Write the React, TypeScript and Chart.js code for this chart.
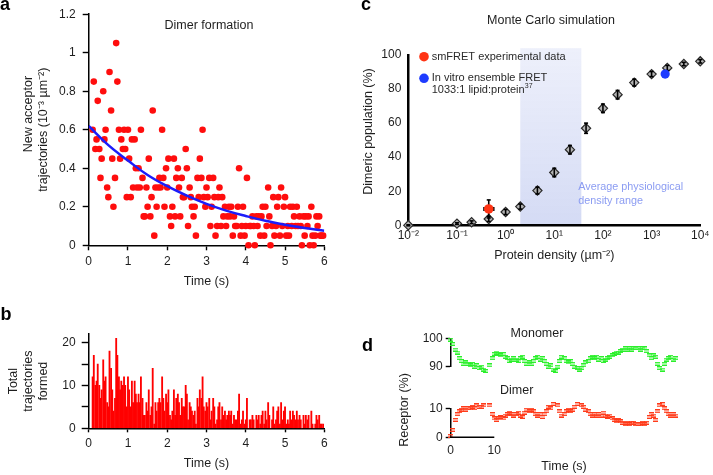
import React, { useEffect, useRef } from 'react';
import { Chart, registerables } from 'chart.js';

Chart.register(...registerables);

const FONT = '"Liberation Sans", Arial, Helvetica, sans-serif';
const TXT = '#1e1e1e';
Chart.defaults.font.family = FONT;
Chart.defaults.color = TXT;

// ---------- Panel a / b : dimer formation histogram ----------
const binTime = [
  0.10, 0.13, 0.17, 0.20, 0.23, 0.27, 0.30, 0.33, 0.37, 0.40, 0.43, 0.47, 0.50, 0.53, 0.57, 0.60, 0.63, 0.67, 0.70, 0.73, 0.77, 0.80, 0.83, 0.87, 0.90, 0.93, 0.97,
  1.00, 1.03, 1.07, 1.10, 1.13, 1.17, 1.20, 1.23, 1.27, 1.30, 1.33, 1.37, 1.40, 1.43, 1.47, 1.50, 1.53, 1.57, 1.60, 1.63, 1.67, 1.70, 1.73, 1.77, 1.80, 1.83, 1.87, 1.90, 1.93, 1.97,
  2.00, 2.03, 2.07, 2.10, 2.13, 2.17, 2.20, 2.23, 2.27, 2.30, 2.33, 2.37, 2.40, 2.43, 2.47, 2.50, 2.53, 2.57, 2.60, 2.63, 2.67, 2.70, 2.73, 2.77, 2.80, 2.83, 2.87, 2.90, 2.93, 2.97,
  3.00, 3.03, 3.07, 3.10, 3.13, 3.17, 3.20, 3.23, 3.27, 3.30, 3.33, 3.37, 3.40, 3.43, 3.47, 3.50, 3.53, 3.57, 3.60, 3.63, 3.67, 3.70, 3.73, 3.77, 3.80, 3.83, 3.87, 3.90, 3.93, 3.97,
  4.00, 4.03, 4.07, 4.10, 4.13, 4.17, 4.20, 4.23, 4.27, 4.30, 4.33, 4.37, 4.40, 4.43, 4.47, 4.50, 4.53, 4.57, 4.60, 4.63, 4.67, 4.70, 4.73, 4.77, 4.80, 4.83, 4.87, 4.90, 4.93, 4.97,
  5.00, 5.03, 5.07, 5.10, 5.13, 5.17, 5.20, 5.23, 5.27, 5.30, 5.33, 5.37, 5.40, 5.43, 5.47, 5.50, 5.53, 5.57, 5.60, 5.63, 5.67, 5.70, 5.73, 5.77, 5.80, 5.83, 5.87, 5.90, 5.93, 5.97,
];

const totalFormed = [
  12, 17, 10, 11, 15, 10, 7, 9,
  16, 11, 12, 6, 5, 18, 14, 9, 4, 7,
  21, 17, 12, 9, 11, 10, 12, 10, 5, 12,
  9, 5, 11, 6, 11, 8, 6, 8, 6, 12,
  7, 3, 3, 6, 4, 9, 3, 5, 14, 1,
  6, 4, 6, 7, 6, 12, 7, 4, 8, 6,
  9, 3, 2, 4, 9, 3, 7, 8, 6, 3,
  7, 5, 5, 10, 8, 2, 6, 5, 4, 3,
  4, 1, 7, 5, 9, 7, 12, 5, 4, 6,
  5, 7, 2, 4, 7, 5, 1, 2, 5, 6,
  2, 5, 3, 4, 2, 3, 4, 3, 4, 1,
  3, 2, 2, 4, 8, 1, 2, 4, 1, 2,
  7, 0, 2, 2, 3, 2, 0, 3, 2, 3,
  1, 3, 4, 1, 4, 2, 6, 3, 0, 2,
  5, 1, 2, 4, 5, 1, 6, 2, 4, 5,
  1, 2, 1, 4, 2, 4, 3, 2, 4, 2,
  3, 2, 0, 3, 1, 3, 2, 3, 0, 4,
  1, 0, 1, 3, 2, 3, 1, 1, 1,
];

const newAcceptor = [
  0.6, 0.85, 0.5, 0.55, 0.75, 0.5, 0.35, 0.45,
  0.8, 0.55, 0.6, 0.3, 0.25, 0.9, 0.7, 0.45, 0.2, 0.35,
  1.05, 0.85, 0.6, 0.45, 0.55, 0.5, 0.6, 0.5, 0.25, 0.6,
  0.45, 0.25, 0.55, 0.3, 0.55, 0.4, 0.3, 0.4, 0.3, 0.6,
  0.35, 0.15, 0.15, 0.3, 0.2, 0.45, 0.15, 0.25, 0.7, 0.05,
  0.3, 0.2, 0.3, 0.35, 0.3, 0.6, 0.35, 0.2, 0.4, 0.3,
  0.45, 0.15, 0.1, 0.2, 0.45, 0.15, 0.35, 0.4, 0.3, 0.15,
  0.35, 0.25, 0.25, 0.5, 0.4, 0.1, 0.3, 0.25, 0.2, 0.15,
  0.2, 0.05, 0.35, 0.25, 0.45, 0.35, 0.6, 0.25, 0.2, 0.3,
  0.25, 0.35, 0.1, 0.2, 0.35, 0.25, 0.05, 0.1, 0.25, 0.3,
  0.1, 0.25, 0.15, 0.2, 0.1, 0.15, 0.2, 0.15, 0.2, 0.05,
  0.15, 0.1, 0.1, 0.2, 0.4, 0.05, 0.1, 0.2, 0.05, 0.1,
  0.35, 0, 0.1, 0.1, 0.15, 0.1, 0, 0.15, 0.1, 0.15,
  0.05, 0.15, 0.2, 0.05, 0.2, 0.1, 0.3, 0.15, 0, 0.1,
  0.25, 0.05, 0.1, 0.2, 0.25, 0.05, 0.3, 0.1, 0.2, 0.25,
  0.05, 0.1, 0.05, 0.2, 0.1, 0.2, 0.15, 0.1, 0.2, 0.1,
  0.15, 0.1, 0, 0.15, 0.05, 0.15, 0.1, 0.15, 0, 0.2,
  0.05, 0, 0.05, 0.15, 0.1, 0.15, 0.05, 0.05, 0.05,
];

const fitTime = [0, 0.5, 1, 1.5, 2, 2.5, 3, 3.5, 4, 4.5, 5, 5.5, 6];
const fitValue = [0.62, 0.52, 0.44, 0.365, 0.307, 0.258, 0.215, 0.18, 0.152, 0.127, 0.107, 0.09, 0.075];

const timeTicks = [0, 1, 2, 3, 4, 5, 6];
const acceptorTicks = [0, 0.2, 0.4, 0.6, 0.8, 1, 1.2];
const countTicks = [0, 5, 10, 15, 20];

// ---------- Panel c : Monte Carlo simulation ----------
const density = [0.01, 0.1, 0.2, 0.45, 1, 2, 4.5, 10, 21, 45, 100, 200, 440, 1000, 2100, 4600, 10000];
const dimericPct = [0, 1, 1.8, 3.7, 7.8, 11, 20.4, 31, 44.4, 57, 68.7, 76.7, 83.8, 88.8, 92.4, 94.7, 96.3];
const dimericErr = [0.3, 0.5, 0.8, 1.5, 1.5, 1.5, 2, 2.5, 2.5, 3, 2.5, 2.5, 2, 1.5, 1.5, 1, 1];
const smfretDensity = [0.45];
const smfretDimer = [9.6];
const smfretDimerErr = [5.3];
const smfretDensityRange = [0.36, 0.57];
const ensembleDensity = [1900];
const ensembleDimer = [88.8];
const physioRange = [2, 36];
const physioTop = 104;
const decadeValues = [0.01, 0.1, 1, 10, 100, 1000, 10000];
const decadeLabels = ['10⁻²', '10⁻¹', '10⁰', '10¹', '10²', '10³', '10⁴'];
const pctTicks = [0, 20, 40, 60, 80, 100];

// ---------- Panel d : receptor trace ----------
const traceTime = [
  0, 0.5, 1, 1.5, 2, 2.5, 3, 3.5, 4, 4.5,
  5, 5.5, 6, 6.5, 7, 7.5, 8, 8.5, 9, 9.5,
  10, 10.5, 11, 11.5, 12, 12.5, 13, 13.5, 14, 14.5,
  15, 15.5, 16, 16.5, 17, 17.5, 18, 18.5, 19, 19.5,
  20, 20.5, 21, 21.5, 22, 22.5, 23, 23.5, 24, 24.5,
  25, 25.5, 26, 26.5, 27, 27.5, 28, 28.5, 29, 29.5,
  30, 30.5, 31, 31.5, 32, 32.5, 33, 33.5, 34, 34.5,
  35, 35.5, 36, 36.5, 37, 37.5, 38, 38.5, 39, 39.5,
  40, 40.5, 41, 41.5, 42, 42.5, 43, 43.5, 44, 44.5,
  45, 45.5, 46, 46.5, 47, 47.5, 48, 48.5, 49, 49.5,
  50, 50.5, 51, 51.5,
];
const dimerPct = [
  0.5, 2.5, 6, 8, 9, 9.5, 10, 9.5, 10, 10,
  10.5, 10, 11, 10.5, 10.5, 11, 12, 12.5, 11, 8,
  6.5, 6, 6.5, 7, 6.5, 7.5, 8, 8.5, 8, 7.5,
  8, 8.5, 7.5, 7, 8.5, 9.5, 9, 9.5, 9, 8,
  7.5, 8, 7, 8, 9, 10.5, 10, 11.5, 12.5, 11,
  9, 7.5, 8, 9, 9.5, 9, 9.5, 10.5, 11.5, 12,
  11, 10.5, 9.5, 9, 8, 7.5, 8, 7.5, 8, 7.5,
  8.5, 7.5, 7, 7.5, 6.5, 6, 5.5, 6, 5.5, 5,
  4.5, 5, 4.5, 5, 5, 4.5, 4.5, 4.5, 5, 4.5,
  5, 7, 8, 7.5, 6, 9, 11, 11.5, 10, 9,
  8, 7.5, 8, 7.5,
];
const monomerPct = [
  99.5, 98, 96, 95, 93, 92, 91, 91.5, 91, 90.5,
  91, 90, 90.5, 89.5, 90, 89, 88.5, 88, 90.5, 93,
  94.5, 95, 94.5, 94, 94.5, 93.5, 93, 92, 92.5, 93,
  92.5, 92, 93, 93.5, 92, 91, 91.5, 91, 92, 93,
  93.5, 92.5, 93, 92, 91, 90, 90.5, 89, 88.5, 90,
  92, 93.5, 93, 92, 91.5, 92, 91, 90, 89.5, 89,
  89.5, 90.5, 91.5, 92, 93, 93.5, 93, 93.5, 92.5, 93,
  92, 92.5, 93, 93.5, 94, 94.5, 95, 95, 95.5, 96,
  96.5, 96, 96.5, 96, 96.5, 96.5, 96.5, 96, 96.5, 96.5,
  95.5, 94, 93, 94, 93.5, 91, 89.5, 89, 91, 92.5,
  93, 93.5, 92.5, 93,
];
const monomerTicks = [90, 100];
const dimerTicks = [0, 10];
const traceTimeTicks = [0, 10];
const traceAxisEnd = 10;

// ---------- helpers ----------
const tickFont = { family: FONT, size: 12 };
const titleFont = { family: FONT, size: 12.5, lineHeight: 1.15 };

type Txt = { t: string; x: number; y: number; size?: number; color?: string; align?: CanvasTextAlign; rot?: number };

function textLayer(id: string, items: (c: Chart) => Txt[]) {
  return {
    id,
    afterDraw(chart: Chart) {
      const ctx = chart.ctx;
      for (const it of items(chart)) {
        ctx.save();
        ctx.translate(it.x, it.y);
        if (it.rot) ctx.rotate(it.rot);
        ctx.font = `${it.size ?? 12.5}px ${FONT}`;
        ctx.fillStyle = it.color ?? TXT;
        ctx.textAlign = it.align ?? 'center';
        ctx.textBaseline = 'middle';
        ctx.fillText(it.t, 0, 0);
        ctx.restore();
      }
    },
  };
}

const fixedTicks = (vals: number[]) => (s: any) => {
  s.ticks = vals.map((value) => ({ value }));
};

const axisGrid = (len: number) => ({
  drawOnChartArea: false,
  drawTicks: true,
  tickLength: len,
  tickColor: '#000',
  tickWidth: 1.4,
});

const baseOptions = {
  responsive: false,
  animation: false as const,
  events: [] as any[],
  plugins: { legend: { display: false }, tooltip: { enabled: false } },
};

function makeDash(color: string) {
  const c = document.createElement('canvas');
  c.width = 5;
  c.height = 4;
  const g = c.getContext('2d')!;
  g.fillStyle = color;
  g.fillRect(0, 0, 5, 1.4);
  g.fillRect(0, 2.6, 5, 1.4);
  return c;
}

// ---------- chart builders ----------
function buildA(cv: HTMLCanvasElement) {
  return new Chart(cv, {
    type: 'scatter',
    data: {
      datasets: [
        {
          type: 'line',
          label: 'Fit',
          data: fitTime.map((x, i) => ({ x, y: fitValue[i] })),
          borderColor: '#1c1cfa',
          borderWidth: 2.5,
          pointRadius: 0,
          tension: 0.4,
          fill: false,
        } as any,
        {
          type: 'scatter',
          label: 'New acceptor trajectories',
          data: binTime.map((x, i) => ({ x, y: newAcceptor[i] })),
          backgroundColor: '#ff0d0d',
          borderWidth: 0,
          pointRadius: 3.3,
          clip: false,
        } as any,
      ],
    },
    options: {
      ...baseOptions,
      layout: { padding: { left: 0, top: 10, right: 20.7, bottom: 0 } },
      scales: {
        x: {
          type: 'linear',
          min: 0,
          max: 6,
          afterBuildTicks: fixedTicks(timeTicks),
          ticks: { font: tickFont, color: TXT, padding: 4, maxRotation: 0, autoSkip: false },
          grid: axisGrid(5),
          border: { color: '#000', width: 1.5 },
          title: { display: true, text: 'Time (s)', font: titleFont, color: TXT, padding: { top: 0, bottom: 6.5 } },
          afterFit: (s: any) => { s.height = 49.7; },
        },
        y: {
          min: 0,
          max: 1.2,
          afterBuildTicks: fixedTicks(acceptorTicks),
          ticks: { font: tickFont, color: TXT, padding: 7, autoSkip: false, callback: (v: any) => String(Math.round(Number(v) * 10) / 10) },
          grid: axisGrid(6),
          border: { color: '#000', width: 1.5 },
          title: {
            display: true,
            text: ['\u00a0'.repeat(9) + 'New acceptor', 'trajectories (10⁻³ µm⁻²)'],
            font: titleFont,
            color: TXT,
            padding: { top: 21.5, bottom: 0 },
          },
          afterFit: (s: any) => { s.width = 88.7; },
        },
      },
    } as any,
    plugins: [
      textLayer('titleA', (c) => [{ t: 'Dimer formation', x: c.chartArea.left + 120.3, y: c.chartArea.top + 11 }]),
    ],
  });
}

function buildB(cv: HTMLCanvasElement) {
  return new Chart(cv, {
    type: 'bar',
    data: {
      datasets: [
        {
          label: 'Total trajectories formed',
          data: binTime.map((x, i) => ({ x, y: totalFormed[i] })),
          backgroundColor: '#ff0000',
          borderWidth: 0,
          barPercentage: 1,
          categoryPercentage: 1,
        } as any,
      ],
    },
    options: {
      ...baseOptions,
      layout: { padding: { left: 0, top: 34, right: 20.7, bottom: 0 } },
      scales: {
        x: {
          type: 'linear',
          offset: false,
          min: 0,
          max: 6,
          afterBuildTicks: fixedTicks(timeTicks),
          ticks: { font: tickFont, color: TXT, padding: 4.5, maxRotation: 0, autoSkip: false },
          grid: { ...axisGrid(4), offset: false },
          border: { color: '#000', width: 1.5 },
          title: { display: true, text: 'Time (s)', font: titleFont, color: TXT, padding: { top: 0, bottom: 4.2 } },
          afterFit: (s: any) => { s.height = 46.7; },
        },
        y: {
          min: 0,
          max: 22,
          afterBuildTicks: fixedTicks(countTicks),
          ticks: { font: tickFont, color: TXT, padding: 6, autoSkip: false, callback: (v: any) => (Number(v) % 10 === 0 ? String(v) : '') },
          grid: axisGrid(7),
          border: { color: '#000', width: 1.5 },
          title: {
            display: true,
            text: ['Total', 'trajectories', 'formed'],
            font: { family: FONT, size: 12.5, lineHeight: 1.2 },
            color: TXT,
            padding: { top: 6.5, bottom: 0 },
          },
          afterFit: (s: any) => { s.width = 88.7; },
        },
      },
    } as any,
  });
}

function buildC(cv: HTMLCanvasElement) {
  const legendText = '#2a2a2a';
  return new Chart(cv, {
    type: 'scatter',
    data: {
      datasets: [
        {
          label: 'smFRET experimental data',
          data: smfretDensity.map((x, i) => ({ x, y: smfretDimer[i] })),
          backgroundColor: '#ff3414',
          borderWidth: 0,
          pointRadius: 4.8,
        },
        {
          label: 'In vitro ensemble FRET',
          data: ensembleDensity.map((x, i) => ({ x, y: ensembleDimer[i] })),
          backgroundColor: '#1e3cff',
          borderWidth: 0,
          pointRadius: 4.6,
        },
        {
          label: 'Monte Carlo simulation',
          data: density.map((x, i) => ({ x, y: dimericPct[i] })),
          pointStyle: 'rectRot',
          pointRadius: 4.6,
          backgroundColor: '#b5b5b5',
          borderColor: '#2a2a2a',
          borderWidth: 1.2,
          clip: false,
        } as any,
      ],
    },
    options: {
      ...baseOptions,
      layout: { padding: { left: 0, top: 55, right: 9.3, bottom: 0 } },
      scales: {
        x: {
          type: 'logarithmic',
          min: 0.01,
          max: 10000,
          afterBuildTicks: fixedTicks(decadeValues),
          ticks: { font: tickFont, color: TXT, padding: 3.5, maxRotation: 0, autoSkip: false, callback: (_v: any, i: number) => decadeLabels[i] },
          grid: { drawOnChartArea: false, drawTicks: false },
          border: { color: '#000', width: 2.5 },
          title: { display: true, text: 'Protein density (µm⁻²)', font: titleFont, color: TXT, padding: { top: 0, bottom: 27.5 } },
          afterFit: (s: any) => { s.height = 64.7; },
        },
        y: {
          min: 0,
          max: 100,
          afterBuildTicks: fixedTicks(pctTicks),
          ticks: { font: tickFont, color: TXT, padding: 7, autoSkip: false },
          grid: { drawOnChartArea: false, drawTicks: false },
          border: { color: '#000', width: 2.5 },
          title: {
            display: true,
            text: '\u00a0'.repeat(5) + 'Dimeric population (%)',
            font: titleFont,
            color: TXT,
            padding: { top: 1.1, bottom: 0 },
          },
          afterFit: (s: any) => { s.width = 48.3; },
        },
      },
    } as any,
    plugins: [
      {
        id: 'physioBand',
        beforeDatasetsDraw(chart: Chart) {
          const { ctx, chartArea } = chart;
          const x = chart.scales.x;
          const y = chart.scales.y;
          const x0 = x.getPixelForValue(physioRange[0]);
          const x1 = x.getPixelForValue(physioRange[1]);
          const yTop = y.getPixelForValue(physioTop);
          const yBot = chartArea.bottom - 1.3;
          const g = ctx.createLinearGradient(0, yTop, 0, yBot);
          g.addColorStop(0, 'rgba(234,237,250,0.85)');
          g.addColorStop(1, 'rgba(210,217,244,0.95)');
          ctx.save();
          ctx.fillStyle = g;
          ctx.fillRect(x0, yTop, x1 - x0, yBot - yTop);
          ctx.restore();
        },
        afterDatasetDraw(chart: Chart, args: any) {
          if (args.index !== 2) return;
          const { ctx } = chart;
          const x = chart.scales.x;
          const y = chart.scales.y;
          ctx.save();
          ctx.strokeStyle = '#000';
          ctx.lineWidth = 1.6;
          const seg = (a: number, b: number, c: number, d: number) => {
            ctx.beginPath();
            ctx.moveTo(a, b);
            ctx.lineTo(c, d);
            ctx.stroke();
          };
          density.forEach((d, i) => {
            const px = x.getPixelForValue(d);
            const y1 = y.getPixelForValue(dimericPct[i] - dimericErr[i]);
            const y2 = y.getPixelForValue(dimericPct[i] + dimericErr[i]);
            seg(px, y1, px, y2);
            seg(px - 2, y1, px + 2, y1);
            seg(px - 2, y2, px + 2, y2);
          });
          const sx = x.getPixelForValue(smfretDensity[0]);
          const sy = y.getPixelForValue(smfretDimer[0]);
          const sy1 = y.getPixelForValue(smfretDimer[0] - smfretDimerErr[0]);
          const sy2 = y.getPixelForValue(smfretDimer[0] + smfretDimerErr[0]);
          const sx1 = x.getPixelForValue(smfretDensityRange[0]);
          const sx2 = x.getPixelForValue(smfretDensityRange[1]);
          seg(sx, sy1, sx, sy2);
          seg(sx - 2, sy2, sx + 2, sy2);
          seg(sx - 2, sy1, sx + 2, sy1);
          seg(sx1, sy, sx2, sy);
          seg(sx1, sy - 2, sx1, sy + 2);
          seg(sx2, sy - 2, sx2, sy + 2);
          ctx.restore();
        },
        afterDraw(chart: Chart) {
          const { ctx, chartArea } = chart;
          const ds = chart.data.datasets as any[];
          const L = chartArea.left;
          const T = chartArea.top;
          ctx.save();
          ctx.fillStyle = ds[0].backgroundColor;
          ctx.beginPath();
          ctx.arc(L + 15.7, T + 1.7, 4.8, 0, Math.PI * 2);
          ctx.fill();
          ctx.fillStyle = ds[1].backgroundColor;
          ctx.beginPath();
          ctx.arc(L + 15.7, T + 23.3, 4.8, 0, Math.PI * 2);
          ctx.fill();
          ctx.textBaseline = 'middle';
          ctx.textAlign = 'left';
          ctx.fillStyle = legendText;
          ctx.font = `11px ${FONT}`;
          ctx.fillText('smFRET experimental data', L + 23.4, T + 1.7);
          ctx.fillText('In vitro ensemble FRET', L + 23.4, T + 23.3);
          const line3 = '1033:1 lipid:protein';
          ctx.fillText(line3, L + 23.4, T + 35.3);
          const w = ctx.measureText(line3).width;
          ctx.font = `7px ${FONT}`;
          ctx.fillText('37', L + 23.6 + w, T + 31.5);
          ctx.fillStyle = '#8b9cf2';
          ctx.font = `10.8px ${FONT}`;
          ctx.fillText('Average physiological', L + 170, T + 131.7);
          ctx.fillText('density range', L + 170, T + 146.3);
          ctx.fillStyle = TXT;
          ctx.textAlign = 'center';
          ctx.font = `12.5px ${FONT}`;
          ctx.fillText('Monte Carlo simulation', L + 142.7, 20.7);
          ctx.restore();
        },
      },
    ],
  });
}

function buildMonomer(cv: HTMLCanvasElement) {
  return new Chart(cv, {
    type: 'scatter',
    data: {
      datasets: [
        {
          label: 'Monomer',
          data: traceTime.map((x, i) => ({ x, y: monomerPct[i] })),
          pointStyle: makeDash('#2bef2b') as any,
          pointRadius: 3,
          clip: false,
        } as any,
      ],
    },
    options: {
      ...baseOptions,
      layout: { padding: { left: 0, top: 18.3, right: 35.6, bottom: 33.3 } },
      scales: {
        x: { type: 'linear', display: false, min: 0, max: 52 },
        y: {
          min: 90,
          max: 100,
          afterBuildTicks: fixedTicks(monomerTicks),
          ticks: { font: tickFont, color: TXT, padding: 3, autoSkip: false },
          grid: axisGrid(5),
          border: { color: '#000', width: 1.5 },
          afterFit: (s: any) => { s.width = 70.7; },
        },
      },
    } as any,
    plugins: [textLayer('titleMono', (c) => [{ t: 'Monomer', x: c.chartArea.left + 86.3, y: 14 }])],
  });
}

function buildDimer(cv: HTMLCanvasElement) {
  return new Chart(cv, {
    type: 'scatter',
    data: {
      datasets: [
        {
          label: 'Dimer',
          data: traceTime.map((x, i) => ({ x, y: dimerPct[i] })),
          pointStyle: makeDash('#ff3b1a') as any,
          pointRadius: 3,
          clip: false,
        } as any,
      ],
    },
    options: {
      ...baseOptions,
      layout: { padding: { left: 0, top: 88.3, right: 35.6, bottom: 0 } },
      scales: {
        x: {
          type: 'linear',
          min: 0,
          max: 52,
          afterBuildTicks: fixedTicks(traceTimeTicks),
          ticks: { font: tickFont, color: TXT, padding: 6, maxRotation: 0, autoSkip: false },
          grid: { drawOnChartArea: false, drawTicks: false },
          border: { display: false },
          title: { display: true, text: 'Time (s)', font: titleFont, color: TXT, padding: { top: 0, bottom: 1.1 } },
          afterFit: (s: any) => { s.height = 37.7; },
        },
        y: {
          min: 0,
          max: 10,
          afterBuildTicks: fixedTicks(dimerTicks),
          ticks: { font: tickFont, color: TXT, padding: 3, autoSkip: false },
          grid: axisGrid(5),
          border: { color: '#000', width: 1.5 },
          afterFit: (s: any) => { s.width = 70.7; },
        },
      },
    } as any,
    plugins: [
      {
        id: 'partialAxis',
        afterDraw(chart: Chart) {
          const { ctx, chartArea } = chart;
          const x = chart.scales.x;
          ctx.save();
          ctx.strokeStyle = '#000';
          ctx.lineWidth = 1.5;
          ctx.beginPath();
          ctx.moveTo(x.getPixelForValue(0) - 0.75, chartArea.bottom);
          ctx.lineTo(x.getPixelForValue(traceAxisEnd), chartArea.bottom);
          ctx.stroke();
          ctx.restore();
        },
      },
      textLayer('titleDimer', (c) => [
        { t: 'Dimer', x: c.chartArea.left + 66, y: 70.7 },
        { t: 'Receptor (%)', x: 25, y: 90, rot: -Math.PI / 2 },
      ]),
    ],
  });
}

function ChartBox({ left, top, width, height, build }: { left: number; top: number; width: number; height: number; build: (c: HTMLCanvasElement) => Chart }) {
  const ref = useRef<HTMLCanvasElement>(null);
  useEffect(() => {
    const chart = build(ref.current!);
    return () => chart.destroy();
  }, []);
  return (
    <div style={{ position: 'absolute', left, top, width, height }}>
      <canvas ref={ref} width={width} height={height} style={{ width, height, display: 'block' }} />
    </div>
  );
}

const letterStyle: React.CSSProperties = {
  position: 'absolute',
  fontFamily: FONT,
  fontWeight: 'bold',
  fontSize: 18,
  lineHeight: '18px',
  color: '#000',
};

export default function App() {
  return (
    <div style={{ position: 'fixed', left: 0, top: 0, width: 713, height: 475, background: '#fff', overflow: 'hidden' }}>
      <ChartBox left={0} top={0} width={345} height={295} build={buildA} />
      <ChartBox left={0} top={300} width={345} height={175} build={buildB} />
      <ChartBox left={360} top={0} width={353} height={290} build={buildC} />
      <ChartBox left={380} top={320} width={333} height={80} build={buildMonomer} />
      <ChartBox left={380} top={320} width={333} height={155} build={buildDimer} />
      <div style={{ ...letterStyle, left: 0, top: -5 }}>a</div>
      <div style={{ ...letterStyle, left: 0.5, top: 304.5 }}>b</div>
      <div style={{ ...letterStyle, left: 361, top: -5 }}>c</div>
      <div style={{ ...letterStyle, left: 362, top: 336 }}>d</div>
    </div>
  );
}
